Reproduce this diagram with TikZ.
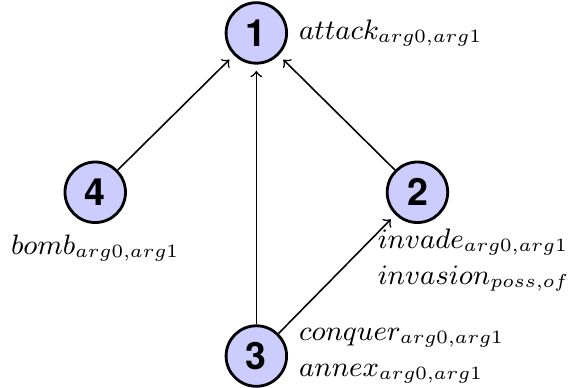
\documentclass[tikz,border=0pt]{standalone}
\usepackage{xcolor}
\usepackage{tikz}
\usepackage{amsmath}
\usepackage{fontspec}
\setsansfont{TeX Gyre Heros}
\usetikzlibrary{arrows}
\usetikzlibrary{positioning}
\definecolor{nodeblue}{RGB}{204,204,255}
\tikzset{
  topic/.style={circle,draw,line width=0.9pt,fill=nodeblue,minimum size=0.68cm,inner sep=0pt,font=\fontsize{12pt}{14pt}\selectfont\sffamily\bfseries},
  edge/.style={->,line width=0.5pt,shorten >=2pt},
  words/.style={inner sep=3.33pt,align=left,font=\fontsize{8.8pt}{11.5pt}\selectfont}
}

\begin{document}
\begin{tikzpicture}
      \useasboundingbox (0,0) rectangle (6.46,4.35);
      \node[topic] (n1) at (2.88,3.98) {1};
      \node[topic] (n4) at (1.07,2.19) {4};
      \node[topic] (n2) at (4.69,2.19) {2};
      \node[topic] (n3) at (2.88,0.35) {3};
      \draw[edge] (n4) -- (n1);
      \draw[edge] (n3) -- (n1);
      \draw[edge] (n3) -- (n2);
      \draw[edge] (n2) -- (n1);
      \node[words,right=0pt of n1] (w1) {$attack_{arg0,arg1}$};
      \node[words,below=0pt of n4] (w4) {$bomb_{arg0,arg1}$};
      \node[words,anchor=north west] (w2) at (4.12,1.90) {$invade_{arg0,arg1}$\\$invasion_{poss,of}$};
      \node[words,right=0pt of n3] (w3) {$conquer_{arg0,arg1}$\\$annex_{arg0,arg1}$};
    \end{tikzpicture}
\end{document}
